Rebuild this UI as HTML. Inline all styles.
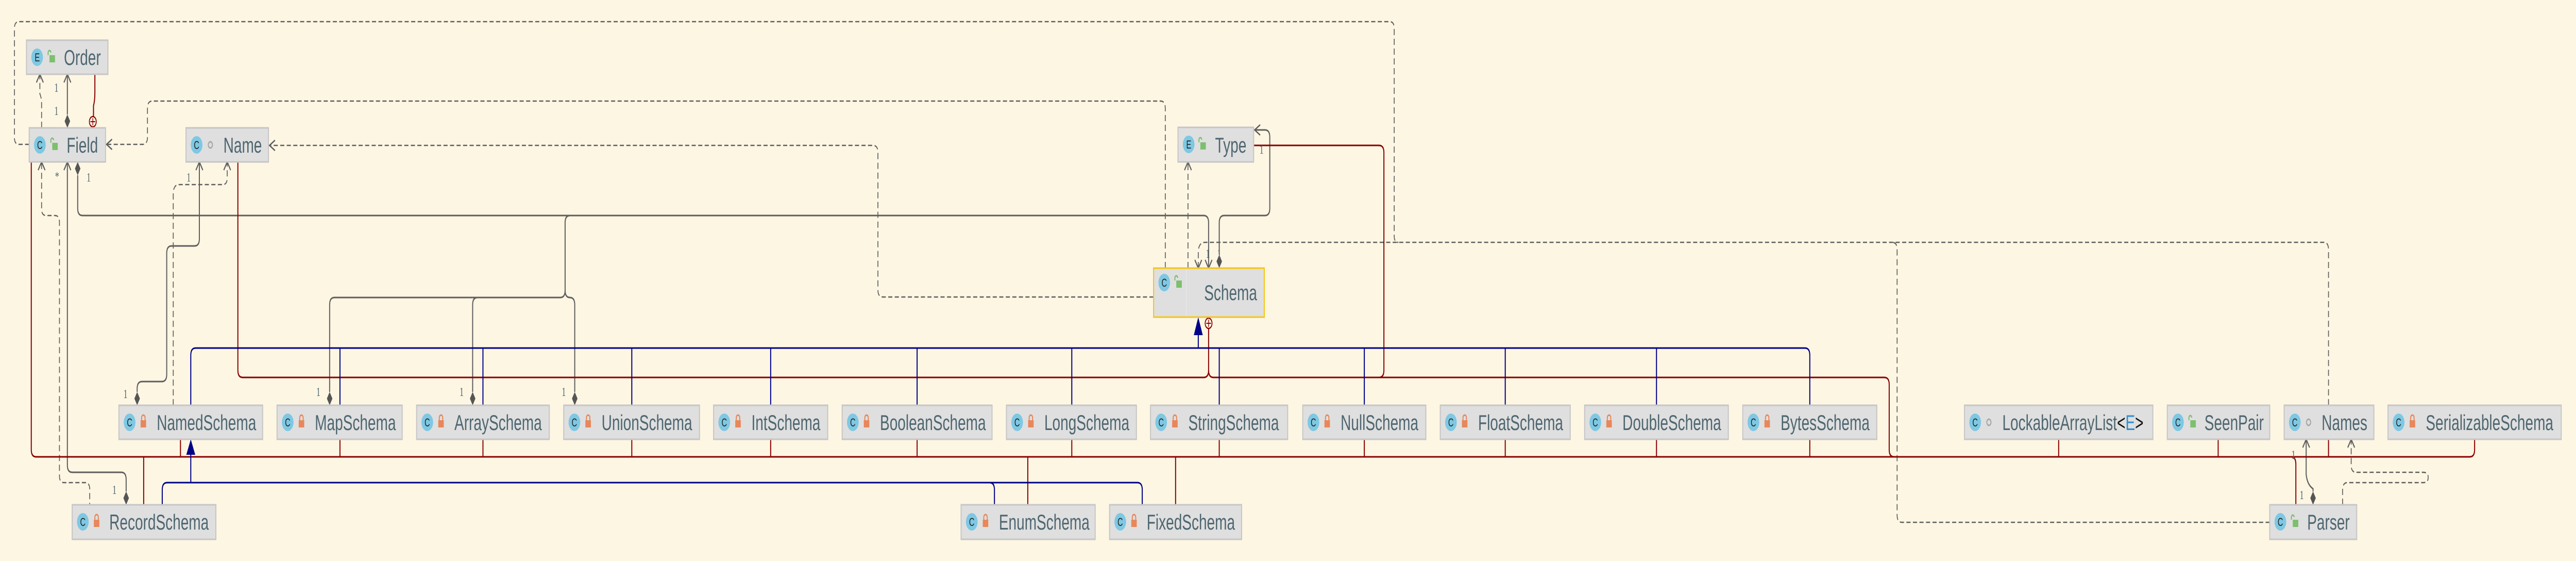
<!DOCTYPE html>
<html><head><meta charset="utf-8"><style>
html,body{margin:0;padding:0;background:#fdf6e3;overflow:hidden;width:100vw;height:100vh;}
svg{display:block;width:100vw;height:100vh}
.bx{fill:#dfdfdf;stroke:#c6c6c6;stroke-width:3}
.t{font-family:"Liberation Sans",sans-serif;font-size:42px;fill:#4e6670}
.l{font-family:"Liberation Serif",serif;font-size:24px;fill:#4e6670}
.g{fill:none;stroke:#5e5e5e;stroke-width:3}
.gd{fill:none;stroke:#5e5e5e;stroke-width:2.5;stroke-dasharray:12,7}
.r{fill:none;stroke:#8b0000;stroke-width:3}
.n{fill:none;stroke:#000088;stroke-width:3}
.ic{fill:#7ec8e3}
.il{font-family:"Liberation Sans",sans-serif;font-size:22px;fill:#222}
</style></head><body>
<svg viewBox="0 0 7494 1088" preserveAspectRatio="none" xmlns="http://www.w3.org/2000/svg">
<rect width="7494" height="1088" fill="#fdf6e3"/>
<defs>
<g id="lockO"><rect x="-8" y="-2" width="16" height="14" fill="#e8875a"/><path d="M-5,-2 V-7 A5,5 0 0 1 5,-7 V-2" fill="none" stroke="#e8875a" stroke-width="3"/></g>
<g id="lockG"><rect x="-4" y="-2" width="16" height="14" fill="#7dbf6e"/><path d="M-8,-2 V-7 A4,4 0 0 1 0,-7" fill="none" stroke="#7dbf6e" stroke-width="3"/></g>
<g id="pk"><circle r="6" fill="none" stroke="#a8a8a8" stroke-width="3"/></g>
</defs>

<path class="gd" d="M85,280 H55 Q42,280 42,267 V55 Q42,42 55,42 H4043 Q4056,42 4056,55 V458 Q4056,470 4068,470"/>
<path class="gd" d="M3486,520 V490 Q3486,470 3506,470 H6760 Q6774,470 6774,484 V786"/>
<path class="gd" d="M6603,1013 H5533 Q5519,1013 5519,999 V484 Q5519,470 5505,470"/>
<path class="gd" d="M3390,520 V210 Q3390,196 3376,196 H443 Q429,196 429,210 V266 Q429,280 415,280 H310"/>
<path class="gd" d="M3356,576 H2568 Q2554,576 2554,562 V296 Q2554,282 2540,282 H784"/>
<path class="gd" d="M3456,520 V316"/>
<path class="gd" d="M121,248 V200 Q121,190 116,182 V146"/>
<path class="gd" d="M121,316 V405 Q121,418 134,418 H160 Q173,418 173,431 V923 Q173,936 186,936 H248 Q261,936 261,949 V979"/>
<path class="gd" d="M504,786 V372 Q507,358 520,358 H648 Q661,358 661,345 V316"/>
<path class="gd" d="M6815,979 V950 Q6815,936 6829,936 H7050 Q7064,936 7064,926 Q7064,916 7050,916 H6854 Q6840,916 6840,902 V854"/>
<g class="g" stroke-width="2.5">
<path d="M326,270 L310,280 L326,290"/>
<path d="M800,272 L784,282 L800,292"/>
<path d="M3446,330 L3456,314 L3466,330"/>
<path d="M106,160 L116,144 L126,160"/>
<path d="M111,330 L121,314 L131,330"/>
<path d="M651,330 L661,314 L671,330"/>
<path d="M6830,868 L6840,852 L6850,868"/>
<path d="M186,160 L196,144 L206,160"/>
<path d="M3506,504 L3516,520 L3526,504"/>
<path d="M3476,504 L3486,520 L3496,504"/>
<path d="M3666,242 L3650,252 L3666,262"/>
<path d="M186,330 L196,314 L206,330"/>
<path d="M570,330 L580,314 L590,330"/>
<path d="M6699,868 L6709,852 L6719,868"/>
</g>
<path class="g" d="M196,222 V146"/>
<path class="g" d="M226,340 V404 Q226,418 240,418 H3502 Q3516,418 3516,432 V518"/>
<path class="g" d="M959,760 V591 Q959,577 973,577 H1630 Q1644,577 1644,563 V432 Q1644,418 1658,418"/>
<path class="g" d="M1375,760 V591 Q1375,577 1389,577"/>
<path class="g" d="M1672,760 V591 Q1672,577 1658,577 Q1644,577 1644,563"/>
<path class="g" d="M3547,494 V432 Q3547,418 3561,418 H3680 Q3694,418 3694,404 V266 Q3694,252 3680,252 H3652"/>
<path class="g" d="M196,316 V902 Q196,916 210,916 H353 Q367,916 367,930 V953"/>
<path class="g" d="M580,316 V463 Q580,477 566,477 H499 Q485,477 485,491 V726 Q485,740 471,740 H413 Q399,740 399,754 V760"/>
<path class="g" d="M6709,854 V920 Q6712,940 6729,948 V953"/>
<g fill="#555">
<path d="M196,222 l8,13 l-8,13 l-8,-13z"/>
<path d="M226,314 l8,13 l-8,13 l-8,-13z"/>
<path d="M959,760 l8,13 l-8,13 l-8,-13z"/>
<path d="M1375,760 l8,13 l-8,13 l-8,-13z"/>
<path d="M1672,760 l8,13 l-8,13 l-8,-13z"/>
<path d="M3547,494 l8,13 l-8,13 l-8,-13z"/>
<path d="M367,953 l8,13 l-8,13 l-8,-13z"/>
<path d="M399,760 l8,13 l-8,13 l-8,-13z"/>
<path d="M6729,953 l8,13 l-8,13 l-8,-13z"/>
</g>

<path class="r" d="M276,144 V180 Q276,195 272,205 V226"/>
<circle cx="270" cy="236" r="10" fill="none" stroke="#8b0000" stroke-width="2.5"/><path d="M263,236 H277 M270,229 V243" stroke="#8b0000" stroke-width="2"/>
<path class="r" d="M3647,282 H4012 Q4026,282 4026,296 V718 Q4026,732 4012,732 H3530"/>
<path class="r" d="M692,314 V718 Q692,732 706,732 H3502 Q3516,732 3516,718 V637"/>
<path class="r" d="M3516,718 Q3516,732 3530,732 H5482 Q5496,732 5496,746 V872 Q5496,886 5510,886"/>
<circle cx="3516" cy="627" r="10" fill="none" stroke="#8b0000" stroke-width="2.5"/><path d="M3509,627 H3523 M3516,620 V634" stroke="#8b0000" stroke-width="2"/>
<path class="r" d="M91,314 V872 Q91,886 105,886 H7185 Q7199,886 7199,872 V852"/>
<path class="r" d="M525,852 V886 M989,852 V886 M1405,852 V886 M1838,852 V886 M2242,852 V886 M2668,852 V886 M3118,852 V886 M3547,852 V886 M3969,852 V886 M4379,852 V886 M4819,852 V886 M5265,852 V886 M5989,852 V886 M6453,852 V886 M6774,852 V886"/>
<path class="r" d="M418,979 V886 M2990,979 V886 M3420,979 V886 M6679,979 V900 Q6679,886 6665,886"/>

<path class="n" d="M555,786 V689 Q555,675 569,675 H5251 Q5265,675 5265,689 V786"/>
<path class="n" d="M989,675 V786 M1405,675 V786 M1838,675 V786 M2242,675 V786 M2668,675 V786 M3118,675 V786 M3547,675 V786 M3969,675 V786 M4379,675 V786 M4819,675 V786"/>
<path class="n" d="M3486,675 V648"/>
<path d="M3486,615 L3499,650 L3473,650 Z" fill="#000088"/>
<path class="n" d="M472,979 V950 Q472,936 486,936 H3309 Q3323,936 3323,950 V979"/>
<path class="n" d="M2879,936 Q2893,936 2893,950 V979"/>
<path class="n" d="M555,936 V878"/>
<path d="M555,852 L568,882 L542,882 Z" fill="#000088"/>

<g class="l">
<text x="158" y="178">1</text><text x="158" y="223">1</text>
<text x="160" y="350">*</text><text x="252" y="352">1</text>
<text x="543" y="352">1</text>
<text x="359" y="772">1</text><text x="920" y="768">1</text>
<text x="1337" y="768">1</text><text x="1634" y="768">1</text>
<text x="327" y="958">1</text>
<text x="3664" y="298">1</text>
<text x="3508" y="500">1</text><text x="3541" y="500">1</text>
<text x="6666" y="890">1</text><text x="6690" y="968">1</text>
</g>

<rect class="bx" x="77" y="78" width="237" height="66"/>
<circle class="ic" cx="108" cy="111" r="17"/><text class="il" x="101" y="119">E</text>
<use href="#lockG" x="148" y="109"/>
<text class="t" x="186" y="126">Order</text>
<rect class="bx" x="85" y="248" width="222" height="66"/>
<circle class="ic" cx="116" cy="281" r="17"/><text class="il" x="108" y="289">C</text>
<use href="#lockG" x="156" y="279"/>
<text class="t" x="194" y="296">Field</text>
<rect class="bx" x="541" y="248" width="240" height="66"/>
<circle class="ic" cx="572" cy="281" r="17"/><text class="il" x="564" y="289">C</text>
<use href="#pk" x="612" y="281"/>
<text class="t" x="650" y="296">Name</text>
<rect class="bx" x="3427" y="247" width="220" height="67"/>
<circle class="ic" cx="3458" cy="280" r="17"/><text class="il" x="3451" y="288">E</text>
<use href="#lockG" x="3496" y="278"/>
<text class="t" x="3535" y="296">Type</text>
<rect x="3356" y="520" width="322" height="95" fill="#dfdfdf" stroke="#f5c518" stroke-width="3"/>
<line x1="3451" y1="523" x2="3451" y2="612" stroke="#e8e8e8" stroke-width="2"/>
<circle class="ic" cx="3387" cy="548" r="17"/><text class="il" x="3379" y="556">C</text>
<use href="#lockG" x="3426" y="546"/>
<text class="t" x="3503" y="582">Schema</text>

<rect class="bx" x="346" y="786" width="418" height="66"/><circle class="ic" cx="377" cy="819" r="17"/><text class="il" x="369" y="827">C</text><use href="#lockO" x="417" y="817"/><text class="t" x="456" y="834">NamedSchema</text>
<rect class="bx" x="806" y="786" width="364" height="66"/><circle class="ic" cx="837" cy="819" r="17"/><text class="il" x="829" y="827">C</text><use href="#lockO" x="877" y="817"/><text class="t" x="916" y="834">MapSchema</text>
<rect class="bx" x="1212" y="786" width="386" height="66"/><circle class="ic" cx="1243" cy="819" r="17"/><text class="il" x="1235" y="827">C</text><use href="#lockO" x="1283" y="817"/><text class="t" x="1322" y="834">ArraySchema</text>
<rect class="bx" x="1640" y="786" width="395" height="66"/><circle class="ic" cx="1671" cy="819" r="17"/><text class="il" x="1663" y="827">C</text><use href="#lockO" x="1711" y="817"/><text class="t" x="1750" y="834">UnionSchema</text>
<rect class="bx" x="2076" y="786" width="332" height="66"/><circle class="ic" cx="2107" cy="819" r="17"/><text class="il" x="2099" y="827">C</text><use href="#lockO" x="2147" y="817"/><text class="t" x="2186" y="834">IntSchema</text>
<rect class="bx" x="2450" y="786" width="436" height="66"/><circle class="ic" cx="2481" cy="819" r="17"/><text class="il" x="2473" y="827">C</text><use href="#lockO" x="2521" y="817"/><text class="t" x="2560" y="834">BooleanSchema</text>
<rect class="bx" x="2928" y="786" width="378" height="66"/><circle class="ic" cx="2959" cy="819" r="17"/><text class="il" x="2951" y="827">C</text><use href="#lockO" x="2999" y="817"/><text class="t" x="3038" y="834">LongSchema</text>
<rect class="bx" x="3347" y="786" width="399" height="66"/><circle class="ic" cx="3378" cy="819" r="17"/><text class="il" x="3370" y="827">C</text><use href="#lockO" x="3418" y="817"/><text class="t" x="3457" y="834">StringSchema</text>
<rect class="bx" x="3790" y="786" width="358" height="66"/><circle class="ic" cx="3821" cy="819" r="17"/><text class="il" x="3813" y="827">C</text><use href="#lockO" x="3861" y="817"/><text class="t" x="3900" y="834">NullSchema</text>
<rect class="bx" x="4190" y="786" width="378" height="66"/><circle class="ic" cx="4221" cy="819" r="17"/><text class="il" x="4213" y="827">C</text><use href="#lockO" x="4261" y="817"/><text class="t" x="4300" y="834">FloatSchema</text>
<rect class="bx" x="4610" y="786" width="418" height="66"/><circle class="ic" cx="4641" cy="819" r="17"/><text class="il" x="4633" y="827">C</text><use href="#lockO" x="4681" y="817"/><text class="t" x="4720" y="834">DoubleSchema</text>
<rect class="bx" x="5070" y="786" width="390" height="66"/><circle class="ic" cx="5101" cy="819" r="17"/><text class="il" x="5093" y="827">C</text><use href="#lockO" x="5141" y="817"/><text class="t" x="5180" y="834">BytesSchema</text>
<rect class="bx" x="5715" y="786" width="548" height="66"/><circle class="ic" cx="5746" cy="819" r="17"/><text class="il" x="5738" y="827">C</text><use href="#pk" x="5786" y="819"/><text class="t" x="5825" y="834">LockableArrayList<tspan fill="#111">&lt;</tspan><tspan fill="#2d8fd5">E</tspan><tspan fill="#111">&gt;</tspan></text>
<rect class="bx" x="6305" y="786" width="298" height="66"/><circle class="ic" cx="6336" cy="819" r="17"/><text class="il" x="6328" y="827">C</text><use href="#lockG" x="6376" y="817"/><text class="t" x="6413" y="834">SeenPair</text>
<rect class="bx" x="6645" y="786" width="261" height="66"/><circle class="ic" cx="6676" cy="819" r="17"/><text class="il" x="6668" y="827">C</text><use href="#pk" x="6716" y="819"/><text class="t" x="6754" y="834">Names</text>
<rect class="bx" x="6947" y="786" width="504" height="66"/><circle class="ic" cx="6978" cy="819" r="17"/><text class="il" x="6970" y="827">C</text><use href="#lockO" x="7018" y="817"/><text class="t" x="7057" y="834">SerializableSchema</text>
<rect class="bx" x="210" y="979" width="418" height="67"/><circle class="ic" cx="241" cy="1012" r="17"/><text class="il" x="233" y="1020">C</text><use href="#lockO" x="281" y="1010"/><text class="t" x="318" y="1027">RecordSchema</text>
<rect class="bx" x="2796" y="979" width="390" height="67"/><circle class="ic" cx="2827" cy="1012" r="17"/><text class="il" x="2819" y="1020">C</text><use href="#lockO" x="2867" y="1010"/><text class="t" x="2906" y="1027">EnumSchema</text>
<rect class="bx" x="3228" y="979" width="384" height="67"/><circle class="ic" cx="3259" cy="1012" r="17"/><text class="il" x="3251" y="1020">C</text><use href="#lockO" x="3299" y="1010"/><text class="t" x="3336" y="1027">FixedSchema</text>
<rect class="bx" x="6603" y="979" width="253" height="67"/><circle class="ic" cx="6634" cy="1012" r="17"/><text class="il" x="6626" y="1020">C</text><use href="#lockG" x="6674" y="1010"/><text class="t" x="6712" y="1027">Parser</text>
</svg>
</body></html>
